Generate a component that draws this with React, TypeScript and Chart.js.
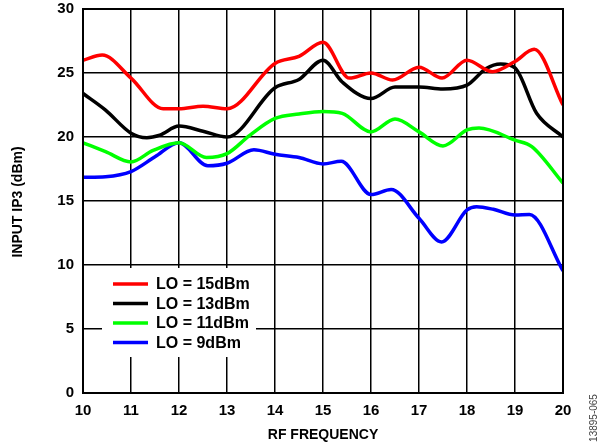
import React, { useEffect, useRef } from "react";
import { Chart, registerables } from "chart.js";

Chart.register(...registerables);

const seriesLabels = ["LO = 15dBm", "LO = 13dBm", "LO = 11dBm", "LO = 9dBm"];
const seriesColors = ["#ff0000", "#000000", "#00ff00", "#0000ff"];

const lo15Freq = [10, 10.4, 11, 11.67, 12, 12.5, 13, 14, 14.5, 15, 15.55, 16, 16.45, 17, 17.48, 18, 18.53, 19, 19.4, 20];
const lo15IP3 = [26.0, 26.4, 24.6, 22.2, 22.2, 22.4, 22.2, 25.75, 26.3, 27.4, 24.6, 25.0, 24.45, 25.45, 24.6, 26.0, 25.1, 25.9, 26.85, 22.5];

const lo13Freq = [10, 10.47, 11, 11.33, 11.6, 12, 12.5, 13, 14, 14.5, 15, 15.4, 16, 16.5, 17, 17.5, 18, 18.4, 18.7, 19, 19.45, 20];
const lo13IP3 = [23.4, 22.1, 20.3, 19.95, 20.15, 20.85, 20.45, 20.0, 23.85, 24.5, 26.0, 24.3, 23.0, 23.9, 23.9, 23.75, 24.05, 25.35, 25.7, 25.4, 21.85, 20.0];

const lo11Freq = [10, 10.47, 11, 11.46, 12, 12.57, 13, 13.48, 14, 14.5, 15, 15.4, 16, 16.5, 17, 17.5, 18, 18.25, 19, 19.35, 20];
const lo11IP3 = [19.55, 18.85, 18.05, 18.95, 19.55, 18.4, 18.7, 20.15, 21.45, 21.8, 22.0, 21.85, 20.4, 21.4, 20.4, 19.3, 20.55, 20.7, 19.75, 19.25, 16.4];

const lo9Freq = [10, 10.47, 11, 11.5, 12, 12.6, 13, 13.56, 14, 14.5, 15, 15.38, 16, 16.42, 17, 17.47, 18, 18.2, 18.55, 19, 19.3, 20];
const lo9IP3 = [16.85, 16.9, 17.3, 18.45, 19.55, 17.75, 17.95, 19.0, 18.65, 18.4, 17.9, 18.1, 15.5, 15.9, 13.65, 11.8, 14.3, 14.55, 14.35, 13.9, 13.95, 9.55];

const xTitle = "RF FREQUENCY";
const yTitle = "INPUT IP3 (dBm)";
const figureId = "13895-065";

const FONT = "'Liberation Sans', Arial, sans-serif";

const toPoints = (xs: number[], ys: number[]) => xs.map((x, i) => ({ x, y: ys[i] }));

const decorPlugin = {
  id: "decor",
  afterDatasetsDraw(chart: any) {
    const { ctx, chartArea } = chart;
    ctx.save();
    // legend box
    ctx.fillStyle = "#ffffff";
    ctx.fillRect(102, 268, 154, 89);
    const rows = [284, 303.5, 323, 342.5];
    chart.data.datasets.forEach((ds: any, i: number) => {
      const y = rows[i];
      ctx.strokeStyle = ds.borderColor;
      ctx.lineWidth = 3.5;
      ctx.beginPath();
      ctx.moveTo(113, y);
      ctx.lineTo(148, y);
      ctx.stroke();
      ctx.fillStyle = "#000";
      ctx.font = `bold 16px ${FONT}`;
      ctx.textAlign = "left";
      ctx.textBaseline = "middle";
      ctx.fillText(ds.label, 156, y + 1);
    });
    // frame
    ctx.strokeStyle = "#000";
    ctx.lineWidth = 2;
    ctx.strokeRect(chartArea.left, chartArea.top, chartArea.right - chartArea.left, chartArea.bottom - chartArea.top);
    // titles
    ctx.fillStyle = "#000";
    ctx.font = `bold 14px ${FONT}`;
    ctx.textAlign = "center";
    ctx.textBaseline = "middle";
    ctx.fillText(xTitle, (chartArea.left + chartArea.right) / 2, 435);
    ctx.save();
    ctx.translate(18, 202);
    ctx.rotate(-Math.PI / 2);
    ctx.fillText(yTitle, 0, 0);
    ctx.restore();
    ctx.save();
    ctx.translate(594, 418);
    ctx.rotate(-Math.PI / 2);
    ctx.font = `10px ${FONT}`;
    ctx.fillStyle = "#444";
    ctx.fillText(figureId, 0, 0);
    ctx.restore();
    ctx.restore();
  },
};

export default function App() {
  const ref = useRef<HTMLCanvasElement>(null);
  useEffect(() => {
    if (!ref.current) return;
    const freqs = [lo15Freq, lo13Freq, lo11Freq, lo9Freq];
    const vals = [lo15IP3, lo13IP3, lo11IP3, lo9IP3];
    const chart = new Chart(ref.current, {
      type: "line",
      data: {
        datasets: seriesLabels.map((label, i) => ({
          label,
          data: toPoints(freqs[i], vals[i]),
          borderColor: seriesColors[i],
          backgroundColor: seriesColors[i],
          borderWidth: 3.5,
          pointRadius: 0,
          cubicInterpolationMode: "monotone" as const,
          fill: false,
        })),
      },
      options: {
        animation: false,
        responsive: false,
        devicePixelRatio: 1,
        layout: { padding: { top: 0, right: 42, left: 0, bottom: 0 } },
        plugins: { legend: { display: false }, tooltip: { enabled: false } },
        scales: {
          x: {
            type: "linear",
            min: 10,
            max: 20,
            afterFit: (s: any) => { s.height = 55; },
            grid: { color: "#000", lineWidth: 1.5, drawTicks: true, tickLength: 9, tickColor: "rgba(0,0,0,0)" },
            border: { display: false },
            ticks: { stepSize: 1, color: "#000", padding: 0, font: { family: FONT, size: 15, weight: "bold" } },
          },
          y: {
            min: 0,
            max: 30,
            afterFit: (s: any) => { s.width = 83; },
            grid: { color: "#000", lineWidth: 1.5, drawTicks: true, tickLength: 9, tickColor: "rgba(0,0,0,0)" },
            border: { display: false },
            ticks: { stepSize: 5, color: "#000", padding: 0, font: { family: FONT, size: 15, weight: "bold" } },
          },
        },
      },
      plugins: [decorPlugin],
    });
    return () => chart.destroy();
  }, []);
  return (
    <div style={{ position: "absolute", left: 0, top: 0, width: 605, height: 448, background: "#fff" }}>
      <canvas ref={ref} width={605} height={448} style={{ display: "block" }} />
    </div>
  );
}
